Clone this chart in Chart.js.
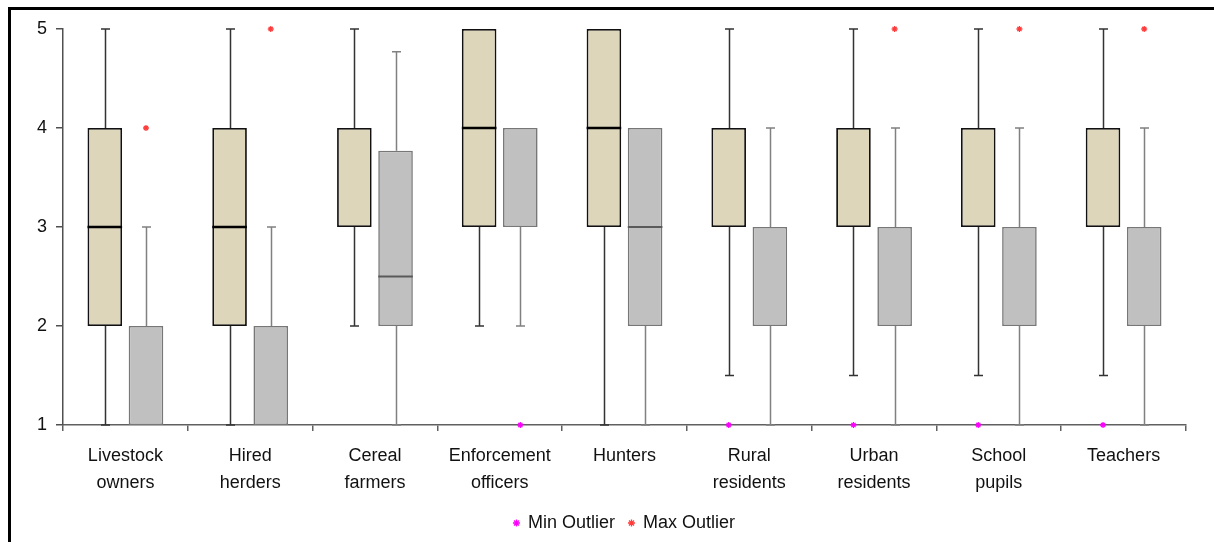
<!DOCTYPE html>
<html>
<head>
<meta charset="utf-8">
<script src="https://cdn.jsdelivr.net/npm/chart.js@4/dist/chart.umd.min.js"></script>
<style>
  html, body { margin: 0; padding: 0; background: #fff; }
  #wrap { position: relative; width: 1214px; height: 542px; }
  #frame { position: absolute; left: 8px; top: 7px; right: -10px; bottom: -10px;
           border-left: 3px solid #000; border-top: 3px solid #000; pointer-events: none; }
  canvas { display: block; }
</style>
</head>
<body>
<div id="wrap">
  <canvas id="chart" width="1214" height="542"></canvas>
  <div id="frame"></div>
</div>
<script>
// Groups on the horizontal axis
const categories = [
  ["Livestock", "owners"], ["Hired", "herders"], ["Cereal", "farmers"],
  ["Enforcement", "officers"], ["Hunters"], ["Rural", "residents"],
  ["Urban", "residents"], ["School", "pupils"], ["Teachers"]
];

// First (beige) box series: five-number summaries
const tanMin    = [1, 1, 2, 2, 1, 1.5, 1.5, 1.5, 1.5];
const tanQ1     = [2, 2, 3, 3, 3, 3, 3, 3, 3];
const tanMedian = [3, 3, 3, 4, 4, 3, 3, 3, 3];
const tanQ3     = [4, 4, 4, 5, 5, 4, 4, 4, 4];
const tanMax    = [5, 5, 5, 5, 5, 5, 5, 5, 5];

// Second (grey) box series
const greyMin    = [1, 1, 1, 2, 1, 1, 1, 1, 1];
const greyQ1     = [1, 1, 2, 3, 2, 2, 2, 2, 2];
const greyMedian = [2, 2, 2.5, 3, 3, 2, 2, 2, 2];
const greyQ3     = [2, 2, 3.77, 4, 4, 3, 3, 3, 3];
const greyMax    = [3, 3, 4.77, 4, 4, 4, 4, 4, 4];

// Outliers, per box series
const tanMinOutlier  = [null, null, null, null, null, 1, 1, 1, 1];
const greyMinOutlier = [null, null, null, 1, null, null, null, null, null];
const greyMaxOutlier = [4, 5, null, null, null, null, 5, 5, 5];

// Value axis ticks
const yTicks = [1, 2, 3, 4, 5];

const FONT = "'Liberation Sans', Arial, sans-serif";

const boxSeries = (q1, q3) => q1.map((v, i) => [v, q3[i]]);

const boxPlugin = {
  id: 'boxWhiskers',
  afterDatasetsUpdate(chart) {
    // put each outlier marker over the box it belongs to
    chart.data.datasets.forEach((ds, i) => {
      if (ds.boxOf === undefined) return;
      const boxes = chart.getDatasetMeta(ds.boxOf).data;
      chart.getDatasetMeta(i).data.forEach((pt, j) => { pt.x = boxes[j].x; });
    });
  },
  beforeDatasetsDraw(chart) {
    const y = chart.scales.y;
    const ctx = chart.ctx;
    chart.data.datasets.forEach((ds, i) => {
      if (!ds.stats) return;
      const s = ds.stats;
      ctx.save();
      ctx.strokeStyle = s.whiskerColor;
      ctx.lineWidth = 1.5;
      chart.getDatasetMeta(i).data.forEach((bar, j) => {
        const x = Math.round(bar.x) + 0.5;
        const segs = [[s.q1[j], s.min[j]], [s.q3[j], s.max[j]]];
        segs.forEach(([from, to]) => {
          if (from === to) return;
          const py0 = y.getPixelForValue(from);
          const py1 = y.getPixelForValue(to);
          ctx.beginPath();
          ctx.moveTo(x, py0);
          ctx.lineTo(x, py1);
          ctx.moveTo(x - 4.5, py1);
          ctx.lineTo(x + 4.5, py1);
          ctx.stroke();
        });
      });
      ctx.restore();
    });
  },
  afterDatasetDraw(chart, args) {
    const ds = chart.data.datasets[args.index];
    if (!ds.stats) return;
    const s = ds.stats;
    const y = chart.scales.y;
    const ctx = chart.ctx;
    ctx.save();
    ctx.strokeStyle = s.medianColor;
    ctx.lineWidth = s.medianWidth;
    args.meta.data.forEach((bar, j) => {
      const m = s.median[j];
      if (m === s.q1[j] || m === s.q3[j]) return;
      const py = y.getPixelForValue(m);
      ctx.beginPath();
      ctx.moveTo(bar.x - bar.width / 2, py);
      ctx.lineTo(bar.x + bar.width / 2, py);
      ctx.stroke();
    });
    ctx.restore();
  }
};

const outlierSet = (label, data, color, boxOf, inLegend) => ({
  type: 'line',
  label,
  data,
  boxOf,
  inLegend,
  showLine: false,
  pointStyle: 'star',
  pointRadius: 3,
  pointHoverRadius: 3,
  borderColor: color,
  backgroundColor: color,
  borderWidth: 1.3,
  pointBorderWidth: 1.3,
  clip: false,
  order: -1
});

new Chart(document.getElementById('chart'), {
  type: 'bar',
  data: {
    labels: categories,
    datasets: [
      {
        label: 'Series 1',
        data: boxSeries(tanQ1, tanQ3),
        backgroundColor: '#ddd6ba',
        borderColor: '#111',
        borderWidth: 1.8,
        borderSkipped: false,
        stats: { min: tanMin, q1: tanQ1, median: tanMedian, q3: tanQ3, max: tanMax,
                 whiskerColor: '#333', medianColor: '#000', medianWidth: 2.5 }
      },
      {
        label: 'Series 2',
        data: boxSeries(greyQ1, greyQ3),
        backgroundColor: '#c0c0c0',
        borderColor: '#777',
        borderWidth: 1.6,
        borderSkipped: false,
        stats: { min: greyMin, q1: greyQ1, median: greyMedian, q3: greyQ3, max: greyMax,
                 whiskerColor: '#808080', medianColor: '#5a5a5a', medianWidth: 2 }
      },
      outlierSet('Min Outlier', tanMinOutlier, '#ff00ff', 0, true),
      outlierSet('Min Outlier', greyMinOutlier, '#ff00ff', 1, false),
      outlierSet('Max Outlier', greyMaxOutlier, '#ff3b3b', 1, true)
    ]
  },
  options: {
    responsive: false,
    animation: false,
    events: [],
    categoryPercentage: 0.66,
    barPercentage: 0.84,
    layout: { padding: { left: 0, right: 28, top: 29, bottom: 0 } },
    scales: {
      x: {
        grid: { display: true, drawOnChartArea: false, drawTicks: true, tickLength: 6,
                color: '#606060', lineWidth: 1.5, offset: true },
        border: { display: true, color: '#606060', width: 1.5 },
        ticks: { font: { family: FONT, size: 18, lineHeight: 1.5 }, color: '#111',
                 padding: 12, maxRotation: 0, autoSkip: false },
        afterFit(scale) { scale.height = 75; }
      },
      y: {
        min: 1,
        max: 5,
        afterBuildTicks(scale) { scale.ticks = yTicks.map(v => ({ value: v })); },
        grid: { display: true, drawOnChartArea: false, drawTicks: true, tickLength: 7,
                color: '#505050', lineWidth: 1.5 },
        border: { display: true, color: '#505050', width: 1.5 },
        ticks: { font: { family: FONT, size: 18 }, color: '#111', padding: 9 },
        afterFit(scale) { scale.width = 63; }
      }
    },
    plugins: {
      tooltip: { enabled: false },
      legend: {
        position: 'bottom',
        fullSize: false,
        labels: {
          usePointStyle: true,
          boxWidth: 5,
          boxHeight: 5,
          padding: 14,
          color: '#111',
          font: { family: FONT, size: 18 },
          filter: (item, data) => data.datasets[item.datasetIndex].inLegend === true
        }
      }
    }
  },
  plugins: [boxPlugin]
});
</script>
</body>
</html>
